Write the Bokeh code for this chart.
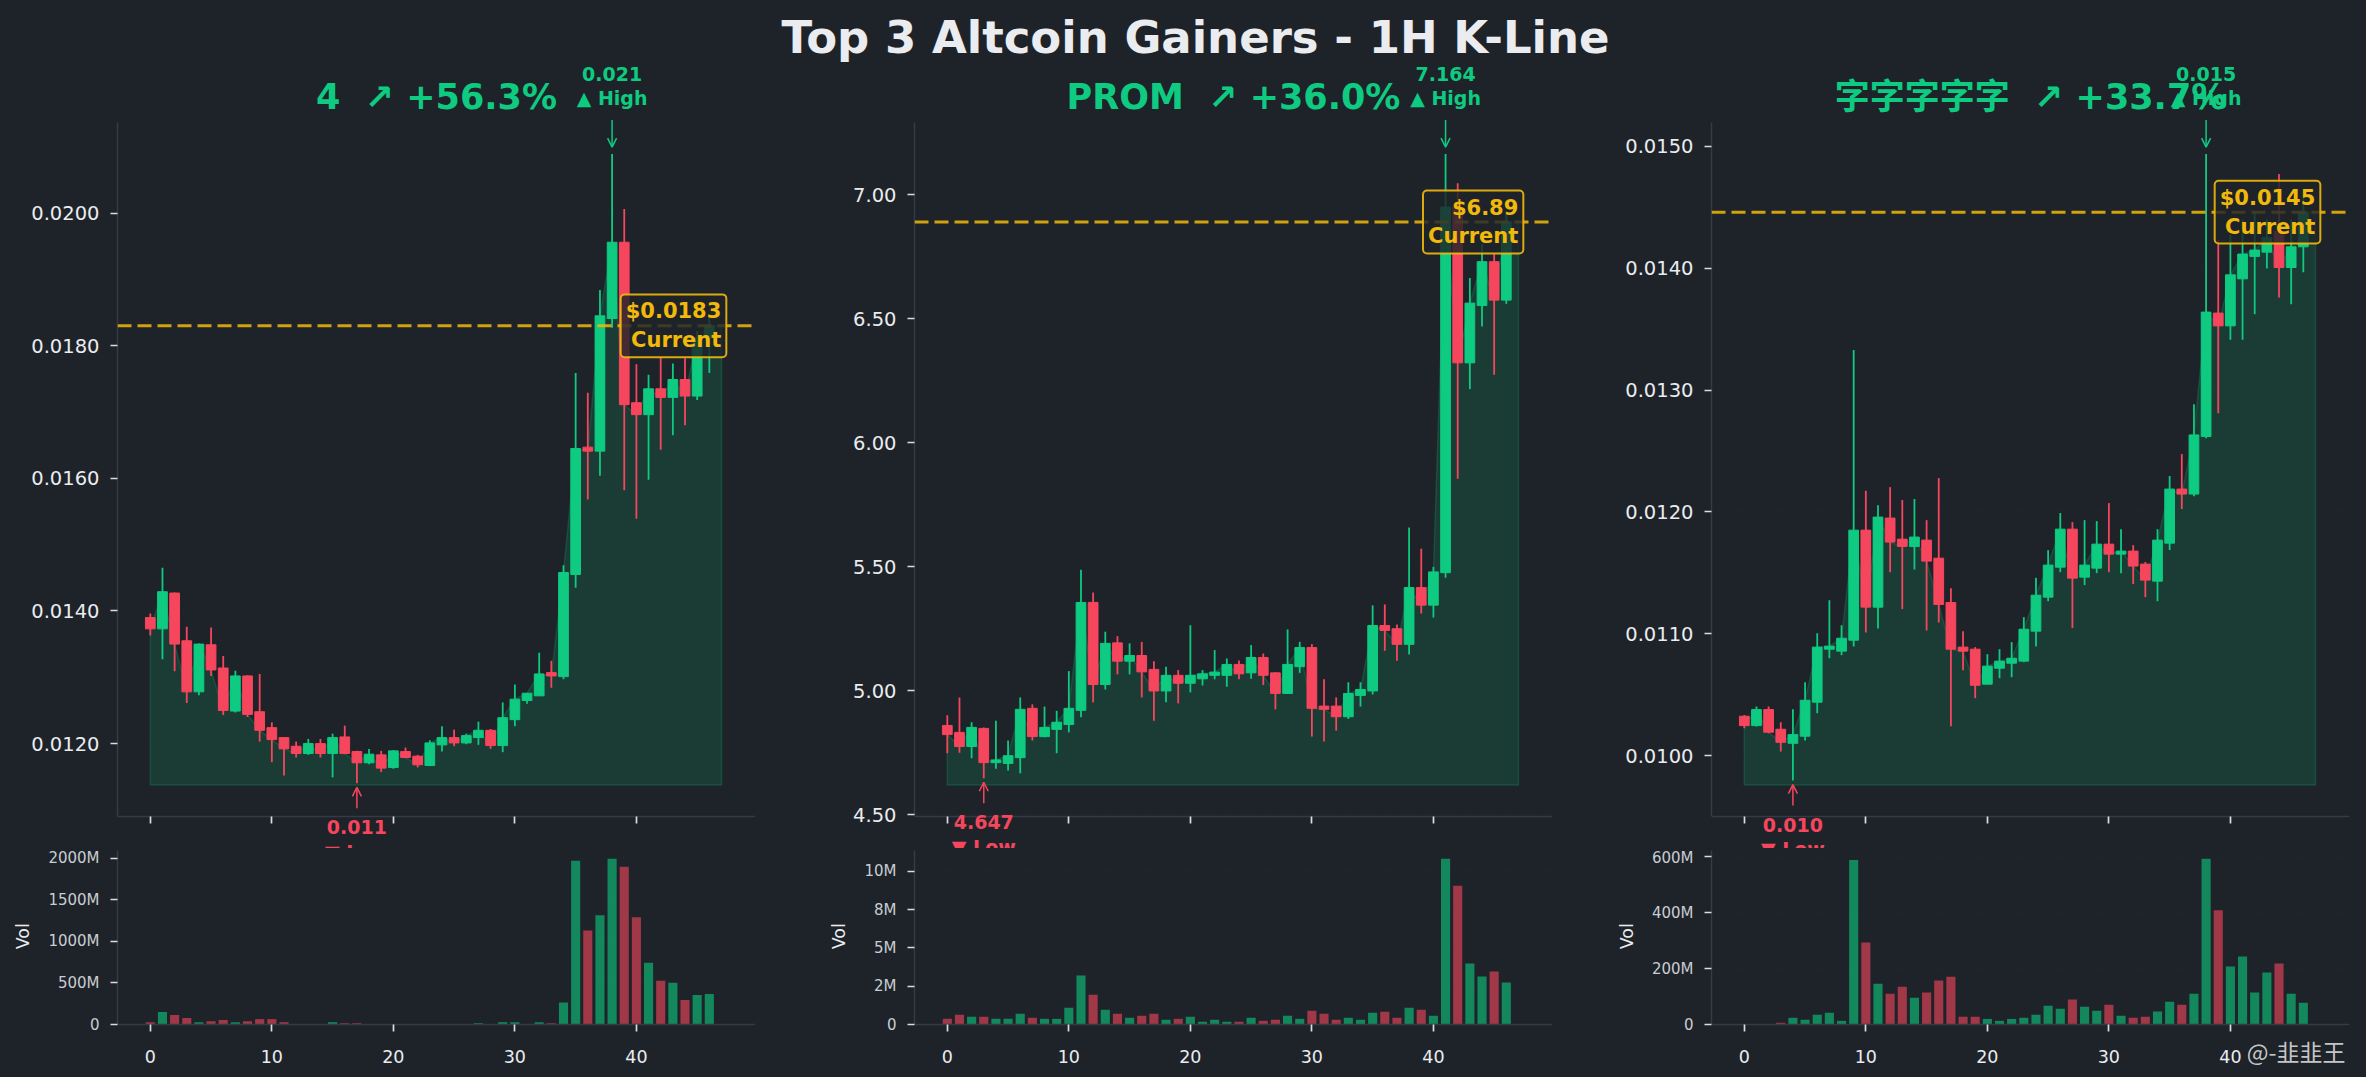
from bokeh.plotting import figure
from bokeh.layouts import column, row
from bokeh.models import (Range1d, FixedTicker, PrintfTickFormatter, Label, Span,
                          Arrow, OpenHead, ColumnDataSource)
from bokeh.embed import file_html
from bokeh.resources import INLINE

# ------------------------------------------------------------------ data
TITLE = "Top 3 Altcoin Gainers - 1H K-Line"
SYMBOLS = ["4", "PROM", "字字字字字"]
CHANGES = [56.3, 36.0, 33.7]
X_TICKS = [0, 10, 20, 30, 40]

OPEN_1 = [0.01390, 0.01373, 0.01427, 0.01355, 0.01278, 0.01349, 0.01314, 0.01249, 0.01302, 0.01248,
          0.01224, 0.01209, 0.01196, 0.01185, 0.01200, 0.01185, 0.01210, 0.01188, 0.01171, 0.01183,
          0.01164, 0.01188, 0.01181, 0.01167, 0.01198, 0.01209, 0.01201, 0.01209, 0.01220, 0.01197,
          0.01236, 0.01265, 0.01272, 0.01307, 0.01301, 0.01455, 0.01647, 0.01641, 0.01841, 0.01956,
          0.01714, 0.01696, 0.01735, 0.01722, 0.01749, 0.01724, 0.01812]
HIGH_1 = [0.01396, 0.01465, 0.01428, 0.01376, 0.01351, 0.01375, 0.01332, 0.01310, 0.01303, 0.01305,
          0.01232, 0.01210, 0.01203, 0.01207, 0.01207, 0.01215, 0.01227, 0.01189, 0.01192, 0.01189,
          0.01190, 0.01194, 0.01183, 0.01205, 0.01226, 0.01221, 0.01215, 0.01233, 0.01222, 0.01262,
          0.01289, 0.01276, 0.01337, 0.01325, 0.01469, 0.01759, 0.01729, 0.01884, 0.02089, 0.02006,
          0.01772, 0.01756, 0.01783, 0.01773, 0.01781, 0.01822, 0.01845]
LOW_1 = [0.01363, 0.01327, 0.01309, 0.01261, 0.01273, 0.01302, 0.01243, 0.01247, 0.01240, 0.01203,
         0.01172, 0.01152, 0.01179, 0.01183, 0.01179, 0.01149, 0.01184, 0.01140, 0.01169, 0.01157,
         0.01162, 0.01178, 0.01164, 0.01166, 0.01188, 0.01196, 0.01199, 0.01198, 0.01192, 0.01187,
         0.01226, 0.01260, 0.01272, 0.01284, 0.01297, 0.01435, 0.01568, 0.01604, 0.01827, 0.01582,
         0.01539, 0.01598, 0.01643, 0.01665, 0.01680, 0.01718, 0.01759]
CLOSE_1 = [0.01373, 0.01429, 0.01350, 0.01278, 0.01350, 0.01311, 0.01250, 0.01302, 0.01244, 0.01220,
           0.01206, 0.01192, 0.01185, 0.01200, 0.01185, 0.01209, 0.01185, 0.01171, 0.01184, 0.01163,
           0.01189, 0.01179, 0.01168, 0.01201, 0.01209, 0.01201, 0.01212, 0.01220, 0.01197, 0.01239,
           0.01267, 0.01276, 0.01305, 0.01302, 0.01458, 0.01645, 0.01641, 0.01845, 0.01956, 0.01711,
           0.01696, 0.01735, 0.01722, 0.01749, 0.01724, 0.01812, 0.01830]
VOL_M_1 = [28, 150, 113, 77, 28, 40, 53, 28, 40, 65, 65, 28, 5, 5, 5, 28, 16, 16, 4, 3, 4, 3, 4, 5,
           4, 3, 4, 16, 5, 28, 28, 5, 28, 16, 263, 1967, 1131, 1313, 1992, 1895, 1289, 743, 525,
           501, 295, 356, 368]
BASE_1 = 0.011376

OPEN_2 = [4.860, 4.832, 4.775, 4.848, 4.710, 4.707, 4.730, 4.929, 4.815, 4.844, 4.864, 4.921, 5.356,
          5.025, 5.193, 5.119, 5.142, 5.086, 4.999, 5.062, 5.030, 5.048, 5.062, 5.062, 5.106, 5.072,
          5.134, 5.072, 4.989, 5.097, 5.174, 4.938, 4.938, 4.895, 4.981, 4.999, 5.263, 5.250, 5.187,
          5.416, 5.345, 5.476, 6.950, 6.322, 6.553, 6.730, 6.575]
HIGH_2 = [4.901, 4.973, 4.873, 4.852, 4.879, 4.799, 4.973, 4.945, 4.936, 4.919, 5.079, 5.488, 5.396,
          5.238, 5.220, 5.191, 5.197, 5.119, 5.097, 5.083, 5.264, 5.083, 5.164, 5.130, 5.122, 5.184,
          5.150, 5.075, 5.247, 5.197, 5.188, 5.046, 4.973, 5.034, 5.034, 5.344, 5.348, 5.267, 5.658,
          5.573, 5.499, 7.164, 7.046, 6.664, 6.800, 6.760, 6.930]
LOW_2 = [4.748, 4.750, 4.728, 4.647, 4.685, 4.678, 4.667, 4.799, 4.812, 4.748, 4.832, 4.893, 4.953,
         5.005, 5.066, 5.066, 4.973, 4.879, 4.953, 4.949, 4.993, 5.021, 5.046, 5.016, 5.046, 5.048,
         5.023, 4.925, 4.989, 5.072, 4.815, 4.795, 4.839, 4.886, 4.936, 4.985, 5.161, 5.121, 5.146,
         5.311, 5.295, 5.456, 5.855, 6.216, 6.469, 6.274, 6.560]
CLOSE_2 = [4.823, 4.775, 4.852, 4.710, 4.721, 4.738, 4.925, 4.815, 4.852, 4.873, 4.929, 5.356, 5.025,
           5.191, 5.119, 5.142, 5.076, 4.999, 5.062, 5.030, 5.062, 5.068, 5.075, 5.106, 5.068, 5.134,
           5.062, 4.989, 5.106, 5.174, 4.929, 4.925, 4.895, 4.989, 5.005, 5.263, 5.243, 5.187, 5.416,
           5.345, 5.479, 6.950, 6.322, 6.563, 6.730, 6.575, 6.890]
VOL_M_2 = [0.37, 0.64, 0.50, 0.50, 0.37, 0.37, 0.70, 0.44, 0.37, 0.37, 1.10, 3.20, 1.95, 0.96, 0.70,
           0.44, 0.57, 0.70, 0.31, 0.37, 0.50, 0.18, 0.31, 0.18, 0.18, 0.44, 0.24, 0.31, 0.57, 0.37,
           0.90, 0.70, 0.31, 0.44, 0.31, 0.77, 0.83, 0.44, 1.10, 0.96, 0.57, 10.83, 9.06, 3.99, 3.14,
           3.46, 2.74]
BASE_2 = 4.620

OPEN_3 = [0.010324, 0.010247, 0.010379, 0.010217, 0.010102, 0.010160, 0.010439, 0.010874, 0.010858,
          0.010948, 0.011851, 0.011219, 0.011950, 0.011777, 0.011717, 0.011769, 0.011621, 0.011257,
          0.010891, 0.010874, 0.010587, 0.010718, 0.010759, 0.010776, 0.011022, 0.011301, 0.011547,
          0.011859, 0.011465, 0.011539, 0.011736, 0.011654, 0.011679, 0.011572, 0.011432, 0.011744,
          0.012188, 0.012147, 0.012619, 0.013632, 0.013527, 0.013913, 0.014097, 0.014132, 0.014302,
          0.014006, 0.014176]
HIGH_3 = [0.010335, 0.010403, 0.010403, 0.010275, 0.010381, 0.010603, 0.011005, 0.011276, 0.011071,
          0.013330, 0.012174, 0.012056, 0.012204, 0.012098, 0.012106, 0.011933, 0.012278, 0.011375,
          0.011022, 0.010891, 0.010833, 0.010874, 0.010932, 0.011137, 0.011460, 0.011687, 0.011991,
          0.011917, 0.011933, 0.011925, 0.012073, 0.011859, 0.011728, 0.011589, 0.011859, 0.012295,
          0.012475, 0.012884, 0.014937, 0.014234, 0.014275, 0.014398, 0.014453, 0.014400, 0.014773,
          0.014400, 0.014600]
LOW_3 = [0.010225, 0.010239, 0.010184, 0.010034, 0.009796, 0.010124, 0.010349, 0.010800, 0.010825,
         0.010896, 0.011011, 0.011044, 0.011506, 0.011203, 0.011528, 0.011027, 0.011093, 0.010242,
         0.010702, 0.010472, 0.010587, 0.010636, 0.010644, 0.010767, 0.010896, 0.011268, 0.011506,
         0.011047, 0.011400, 0.011498, 0.011506, 0.011498, 0.011408, 0.011301, 0.011268, 0.011687,
         0.012024, 0.012128, 0.012605, 0.012810, 0.013413, 0.013413, 0.013623, 0.013998, 0.013760,
         0.013705, 0.013968]
CLOSE_3 = [0.010247, 0.010379, 0.010193, 0.010110, 0.010173, 0.010455, 0.010891, 0.010899, 0.010964,
           0.011851, 0.011219, 0.011958, 0.011753, 0.011717, 0.011794, 0.011597, 0.011241, 0.010874,
           0.010858, 0.010578, 0.010735, 0.010776, 0.010800, 0.011038, 0.011317, 0.011564, 0.011859,
           0.011457, 0.011564, 0.011736, 0.011654, 0.011679, 0.011556, 0.011441, 0.011769, 0.012188,
           0.012147, 0.012632, 0.013640, 0.013527, 0.013946, 0.014116, 0.014149, 0.014250, 0.014006,
           0.014176, 0.014460]
VOL_M_3 = [1, 1, 1, 6, 24, 17, 35, 42, 13, 588, 293, 146, 110, 135, 96, 114, 157, 171, 28, 28, 20, 13,
           20, 24, 35, 67, 56, 89, 63, 49, 71, 31, 24, 28, 46, 81, 71, 110, 592, 408, 207, 243, 114,
           186, 218, 110, 78]
BASE_3 = 0.00976

PRICE_TICKS = [[0.012, 0.014, 0.016, 0.018, 0.020],
               [4.5, 5.0, 5.5, 6.0, 6.5, 7.0],
               [0.010, 0.011, 0.012, 0.013, 0.014, 0.015]]
PRICE_FMT = ["%.4f", "%.2f", "%.4f"]
VOL_TICKS = [[0, 500, 1000, 1500, 2000],
             [0, 2.5, 5, 7.5, 10],
             [0, 200, 400, 600]]
WATERMARK = "@-韭韭王"

OPENS = [OPEN_1, OPEN_2, OPEN_3]
HIGHS = [HIGH_1, HIGH_2, HIGH_3]
LOWS = [LOW_1, LOW_2, LOW_3]
CLOSES = [CLOSE_1, CLOSE_2, CLOSE_3]
VOLS = [VOL_M_1, VOL_M_2, VOL_M_3]
BASES = [BASE_1, BASE_2, BASE_3]

# ------------------------------------------------------------------ style / layout
BG = "#1e2329"
GREEN = "#0ecb81"
RED = "#f6465d"
YELLOW = "#f0b90b"
TEXT = "#eaecef"
TICK = "#d9dce1"
SPINE = "#363a45"
GRID = "#3a3f4a"
FONT = "DejaVu Sans"
CJK = "DejaVu Sans, Noto Sans CJK SC"
NBSP2 = "\u00a0\u00a0"
EMSP3 = "\u2003\u2003\u2003"   # keeps the rotated 'Vol' centred on the volume axes box

FRAME_W = 638
LEFT = [117, 99, 101]
RIGHT = [60, 58, 15]
TITLE_H = 63
# price panel: axes box 694 px tall, with text room above and below inside the frame
P_AX_H, P_ABOVE, P_BELOW = 694, 59, 32
# volume panel: axes box 174 px tall, tick-label room below inside the frame
V_AX_H, V_ABOVE, V_BELOW = 174, 2, 52
X_RANGE = (-2.7, 49.8)


def dx(px):
    return px * (X_RANGE[1] - X_RANGE[0]) / FRAME_W


def style_axis(ax, size, standoff=11):
    ax.axis_line_color = SPINE
    ax.axis_line_width = 1.5
    ax.major_tick_line_color = TICK
    ax.major_tick_line_width = 1.7
    ax.major_tick_out = 7
    ax.major_tick_in = 0
    ax.minor_tick_line_color = None
    ax.major_label_text_color = TEXT
    ax.major_label_text_font = FONT
    ax.major_label_text_font_size = size
    ax.major_label_standoff = standoff


def style_grid(p, yticks):
    p.xgrid.visible = False
    p.ygrid.ticker = FixedTicker(ticks=yticks)
    g = p.ygrid[0]
    g.grid_line_color = GRID
    g.grid_line_alpha = 0.18
    g.grid_line_dash = "2 3"
    g.grid_line_width = 1


def label(p, x, y, text, color, size, bold=True, align="center", font=FONT, **kw):
    p.add_layout(Label(x=x, y=y, text=text, text_align=align, text_baseline="middle",
                       text_color=color, text_font=font,
                       text_font_style="bold" if bold else "normal",
                       text_font_size=size, **kw))


def make_price(k):
    o, h, l, c = OPENS[k], HIGHS[k], LOWS[k], CLOSES[k]
    n = len(c)
    idx = list(range(n))
    base = BASES[k]
    hmax = max(h)
    span = hmax - base
    y0, y1 = base - 0.05 * span, hmax + 0.05 * span
    per = (y1 - y0) / P_AX_H            # data units per pixel
    p = figure(frame_width=FRAME_W, frame_height=P_AX_H + P_ABOVE + P_BELOW,
               x_range=Range1d(*X_RANGE),
               y_range=Range1d(y0 - P_BELOW * per, y1 + P_ABOVE * per),
               output_backend="svg", toolbar_location=None, title=None,
               min_border_left=LEFT[k], min_border_right=RIGHT[k],
               min_border_top=0, min_border_bottom=0,
               background_fill_color=BG, border_fill_color=BG, outline_line_color=None)
    style_grid(p, PRICE_TICKS[k])
    p.xaxis.ticker = FixedTicker(ticks=[], minor_ticks=X_TICKS)
    p.xaxis.fixed_location = y0
    p.yaxis.ticker = FixedTicker(ticks=PRICE_TICKS[k])
    p.yaxis.formatter = PrintfTickFormatter(format=PRICE_FMT[k])
    p.yaxis.bounds = (y0, y1)
    style_axis(p.xaxis[0], "17.5px")
    style_axis(p.yaxis[0], "19.5px")
    xa = p.xaxis[0]
    xa.minor_tick_line_color = TICK
    xa.minor_tick_line_width = 1.7
    xa.minor_tick_out = 7
    xa.minor_tick_in = 0

    colors = [GREEN if cc >= oo else RED for oo, cc in zip(o, c)]
    src = ColumnDataSource(dict(x=idx, o=o, h=h, l=l, c=c,
                                top=[max(a, b) for a, b in zip(o, c)],
                                bottom=[min(a, b) for a, b in zip(o, c)],
                                color=colors))
    fx = idx + [n, n, 0]
    fy = list(c) + [c[-1], base, base]
    p.patch(fx, fy, fill_color=GREEN, fill_alpha=0.14, line_color=GREEN, line_alpha=0.2, line_width=1.5)
    p.segment("x", "h", "x", "l", source=src, line_color="color", line_width=1.8)
    p.vbar(x="x", width=0.8, top="top", bottom="bottom", source=src,
           fill_color="color", line_color="color", line_width=1)

    # current price line & label
    cur = c[-1]
    p.add_layout(Span(location=cur, dimension="width", line_color=YELLOW, line_alpha=0.85,
                      line_width=3, line_dash="14 6"))
    fmt = ".4f" if cur < 1 else ".2f"
    label(p, n + 0.4, cur, f"${cur:{fmt}}\nCurrent", YELLOW, "21px", align="right",
          background_fill_color=BG, background_fill_alpha=0.82,
          border_line_color=YELLOW, border_line_width=2, border_line_alpha=0.9,
          padding=5, border_radius=4)

    # high annotation
    ih = h.index(hmax)
    p.add_layout(Arrow(end=OpenHead(size=9, line_color=GREEN, line_width=1.5),
                       x_start=ih, y_start=hmax + 34 * per, x_end=ih, y_end=hmax + 7 * per,
                       line_color=GREEN, line_width=1.5))
    label(p, ih, hmax + 80 * per, f"{hmax:.3f}", GREEN, "19px")
    label(p, ih, hmax + 55.6 * per, "▲ High", GREEN, "19px")

    # low annotation
    lmin = min(l)
    il = l.index(lmin)
    p.add_layout(Arrow(end=OpenHead(size=9, line_color=RED, line_width=1.5),
                       x_start=il, y_start=lmin - 25 * per, x_end=il, y_end=lmin - 4 * per,
                       line_color=RED, line_width=1.5))
    label(p, il, lmin - 44 * per, f"{lmin:.3f}", RED, "19px")
    label(p, il, lmin - 68.5 * per, "▼ Low", RED, "19px")

    # panel title
    label(p, (X_RANGE[0] + X_RANGE[1]) / 2, y1 + 25.8 * per,
          f"{SYMBOLS[k]}{NBSP2}↗ +{CHANGES[k]:.1f}%", GREEN, "35px", font=CJK)
    return p


def make_vol(k):
    o, c, v = OPENS[k], CLOSES[k], VOLS[k]
    n = len(v)
    idx = list(range(n))
    top = max(v) * 1.05
    per = top / V_AX_H
    p = figure(frame_width=FRAME_W, frame_height=V_AX_H + V_ABOVE + V_BELOW,
               x_range=Range1d(*X_RANGE), y_range=Range1d(-V_BELOW * per, top + V_ABOVE * per),
               output_backend="svg", toolbar_location=None, title=None,
               min_border_left=LEFT[k], min_border_right=RIGHT[k],
               min_border_top=0, min_border_bottom=0,
               background_fill_color=BG, border_fill_color=BG, outline_line_color=None)
    style_grid(p, VOL_TICKS[k])
    p.xaxis.ticker = FixedTicker(ticks=X_TICKS)
    p.xaxis.fixed_location = 0
    p.yaxis.ticker = FixedTicker(ticks=VOL_TICKS[k])
    p.yaxis.bounds = (0, top)
    p.yaxis.major_label_overrides = {t: ("0" if t == 0 else f"{t:.0f}M") for t in VOL_TICKS[k]}
    style_axis(p.xaxis[0], "17.5px", standoff=18)
    style_axis(p.yaxis[0], "15px")
    p.yaxis.major_label_text_color = "#c9cdd3"
    p.yaxis.axis_label = EMSP3 + "Vol"
    p.yaxis.axis_label_text_font = FONT
    p.yaxis.axis_label_text_font_style = "normal"
    p.yaxis.axis_label_text_font_size = "17.5px"
    p.yaxis.axis_label_text_color = TEXT
    p.yaxis.axis_label_standoff = 12

    colors = [GREEN if cc >= oo else RED for oo, cc in zip(o, c)]
    p.vbar(x=idx, width=0.75, top=v, bottom=0, fill_color=colors, fill_alpha=0.6, line_color=None)

    if k == 2:
        label(p, X_RANGE[0] + dx(634), -26 * per, WATERMARK, "#dcdcdc", "23px", bold=False,
              align="right", font="Noto Sans CJK SC", text_alpha=0.9)
    return p


cols = [column(make_price(k), make_vol(k)) for k in range(3)]

total_w = sum(LEFT) + sum(RIGHT) + 3 * FRAME_W
tp = figure(frame_width=total_w, frame_height=TITLE_H,
            x_range=Range1d(0, total_w), y_range=Range1d(0, TITLE_H),
            x_axis_type=None, y_axis_type=None, min_border=0, toolbar_location=None,
            output_backend="svg", background_fill_color=BG, border_fill_color=BG,
            outline_line_color=None, title=None)
label(tp, 1195, TITLE_H - 36.8, TITLE, TEXT, "45px")

layout = column(tp, row(*cols))

html = file_html(layout, INLINE, title="Top 3 Altcoin Gainers")
html = html.replace("<head>", "<head><style>html,body{background:#1e2329;}</style>", 1)
with open("out.html", "w", encoding="utf-8") as f:
    f.write(html)
